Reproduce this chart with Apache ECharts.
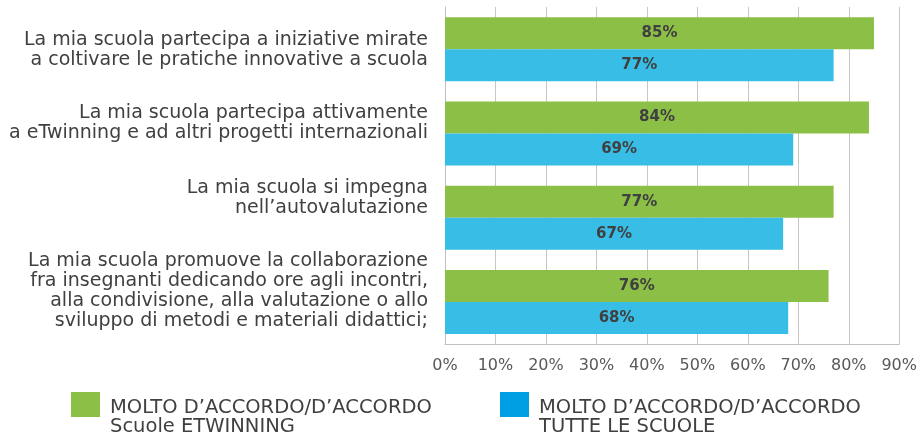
<!DOCTYPE html>
<html>
<head>
<meta charset="utf-8">
<script src="https://cdn.jsdelivr.net/npm/echarts@6/dist/echarts.min.js"></script>
<style>
  html, body { margin: 0; padding: 0; background: #fff; }
  #chart { width: 920px; height: 434px; }
</style>
</head>
<body>
<div id="chart"></div>
<script>
// categories, top to bottom
var categories = [
  "La mia scuola partecipa a iniziative mirate\na coltivare le pratiche innovative a scuola",
  "La mia scuola partecipa attivamente\na eTwinning e ad altri progetti internazionali",
  "La mia scuola si impegna\nnell\u2019autovalutazione",
  "La mia scuola promuove la collaborazione\nfra insegnanti dedicando ore agli incontri,\nalla condivisione, alla valutazione o allo\nsviluppo di metodi e materiali didattici;"
];
// vertical shift of each label (px, positive = up)
var labelShift = [-1, 10, 20, 11];

var seriesNames = [
  "MOLTO D\u2019ACCORDO/D\u2019ACCORDO\nScuole ETWINNING",
  "MOLTO D\u2019ACCORDO/D\u2019ACCORDO\nTUTTE LE SCUOLE"
];
var etwinning = [85, 84, 77, 76];
var tutte = [77, 69, 67, 68];

var xTicks = [0, 10, 20, 30, 40, 50, 60, 70, 80, 90];

var font = "DejaVu Sans";
var chart = echarts.init(document.getElementById("chart"));

// rich styles: text lines plus spacer lines used to nudge each label
var catRich = { t: { fontFamily: font, fontSize: 19, lineHeight: 20, color: "#404040" } };
labelShift.forEach(function (s, i) {
  if (s !== 0) catRich["sp" + i] = { fontSize: 1, lineHeight: Math.abs(s) * 2 };
});

function catFormatter(value, index) {
  var lines = value.split("\n").map(function (l) { return "{t|" + l + "}"; });
  var s = labelShift[index];
  if (s > 0) lines.push("{sp" + index + "| }");
  if (s < 0) lines.unshift("{sp" + index + "| }");
  return lines.join("\n");
}

function legendOf(name, color, left) {
  return {
    left: left, top: 385,
    padding: 0,
    itemWidth: 29, itemHeight: 25,
    icon: "rect",
    data: [{ name: name, itemStyle: { color: color } }],
    formatter: function (n) {
      return "{sp| }\n" + n.split("\n").map(function (l) { return "{t|" + l + "}"; }).join("\n");
    },
    textStyle: {
      rich: {
        sp: { fontSize: 1, lineHeight: 25 },
        t: { color: "#404040", fontFamily: font, fontSize: 19.5, lineHeight: 19, padding: [0, 0, 0, 5] }
      }
    },
    selectedMode: false
  };
}

var option = {
  animation: false,
  grid: { left: 445, right: 20, top: 7, bottom: 90, containLabel: false },
  xAxis: {
    type: "value",
    min: xTicks[0],
    max: xTicks[xTicks.length - 1],
    interval: 10,
    axisLine: { show: true, lineStyle: { color: "#bfbfbf", width: 1 } },
    axisTick: { show: false },
    splitLine: { show: true, lineStyle: { color: "#c6c6c6", width: 1 } },
    axisLabel: {
      formatter: "{value}%",
      color: "#595959",
      fontFamily: font,
      fontSize: 16,
      margin: 14
    }
  },
  yAxis: {
    type: "category",
    inverse: true,
    data: categories,
    axisLine: { show: true, lineStyle: { color: "#bfbfbf", width: 1 } },
    axisTick: { show: false },
    axisLabel: {
      interval: 0,
      hideOverlap: false,
      align: "right",
      margin: 17,
      formatter: catFormatter,
      rich: catRich
    }
  },
  legend: [
    legendOf(seriesNames[0], "#8bbf45", 71),
    legendOf(seriesNames[1], "#009fe3", 500)
  ],
  series: [
    {
      name: seriesNames[0],
      type: "bar",
      data: etwinning,
      barWidth: 32,
      barGap: "0%",
      itemStyle: { color: "#8bbf45" },
      label: {
        show: true, position: "inside", formatter: "{c}%",
        color: "#404040", fontFamily: font, fontWeight: "bold", fontSize: 15
      }
    },
    {
      name: seriesNames[1],
      type: "bar",
      data: tutte,
      barWidth: 32,
      barGap: "0%",
      itemStyle: { color: "#38bde6" },
      label: {
        show: true, position: "inside", formatter: "{c}%",
        color: "#404040", fontFamily: font, fontWeight: "bold", fontSize: 15
      }
    }
  ]
};

chart.setOption(option);
</script>
</body>
</html>
